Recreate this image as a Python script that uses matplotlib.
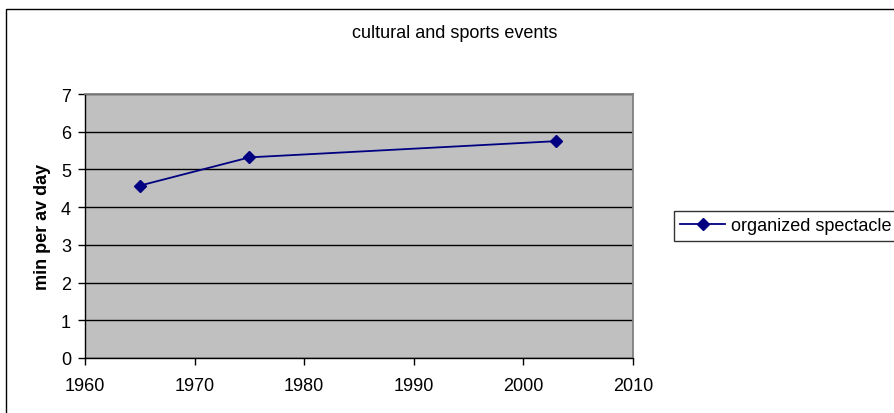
import matplotlib.pyplot as plt
from matplotlib.patches import Rectangle

plt.rcParams['font.family'] = ['Liberation Sans', 'DejaVu Sans']

# data
years = [1965, 1975, 2003]
minutes = [4.57, 5.32, 5.75]
series_name = 'organized spectacle'

fig = plt.figure(figsize=(8.94, 4.14), dpi=100)

# chart border (only top and left visible in the crop)
fig.patches.append(Rectangle((6 / 894, -0.1), 1.2, (414 - 10) / 414 + 0.1,
                             transform=fig.transFigure, fill=False,
                             edgecolor='black', linewidth=1))

ax = fig.add_axes([85 / 894, 55 / 414, 548 / 894, 264 / 414])
ax.set_facecolor('#C0C0C0')

ax.plot(years, minutes, color='#000080', marker='D', markersize=6.5,
        linewidth=1.3, label=series_name)

ax.set_xlim(1960, 2010)
ax.set_ylim(0, 7)
ax.set_xticks(range(1960, 2011, 10))
ax.set_yticks(range(0, 8))
ax.grid(axis='y', color='black', linewidth=1)
ax.set_axisbelow(True)

for s in ['top', 'right']:
    ax.spines[s].set_color('#808080')
    ax.spines[s].set_linewidth(1.3)
for s in ['left', 'bottom']:
    ax.spines[s].set_color('black')
    ax.spines[s].set_linewidth(1)

ax.tick_params(axis='x', direction='out', length=5, width=1, pad=9, labelsize=13)
ax.tick_params(axis='y', direction='out', length=5, width=1, pad=5, labelsize=13)

ax.set_ylabel('min per av day', fontsize=13, fontweight='bold', labelpad=7)

fig.text(455 / 894, 1 - 33 / 414, 'cultural and sports events',
         ha='center', va='center', fontsize=13)

leg = fig.legend(loc='center left', bbox_to_anchor=(674 / 894, 1 - 227 / 414),
                 frameon=True, fancybox=False, edgecolor='black',
                 fontsize=13, handlelength=2.5, borderpad=0.35,
                 handletextpad=0.3, borderaxespad=0)
leg.get_frame().set_linewidth(1)

fig.savefig('out.png', dpi=100)
